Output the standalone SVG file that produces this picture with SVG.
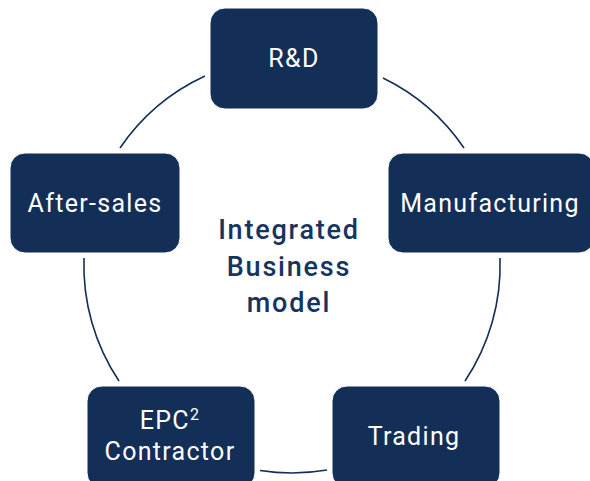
<svg xmlns="http://www.w3.org/2000/svg" width="590" height="481" viewBox="0 0 590 481">
<style>
.box{fill:#142f57;stroke:#ffffff;stroke-width:1}
.lbl{font-family:Roboto,"DejaVu Sans",sans-serif;font-size:25px;fill:#ffffff;text-anchor:middle;letter-spacing:1.3px}
.ctr{font-family:Roboto,"DejaVu Sans",sans-serif;font-size:27px;font-weight:500;fill:#17345f;text-anchor:middle;letter-spacing:1.8px}
.arc{fill:none;stroke:#142f57;stroke-width:1.6}
</style>
<rect width="590" height="481" fill="#ffffff"/>
<g id="connectors">
<path class="arc" d="M383 78 A208 208 0 0 1 464 148"/>
<path class="arc" d="M500 258 A208 208 0 0 1 465 381"/>
<path class="arc" d="M327 470 A208 208 0 0 1 260 470.5"/>
<path class="arc" d="M119 381 A208 208 0 0 1 84 258"/>
<path class="arc" d="M120 148 A208 208 0 0 1 205 76"/>
</g>
<g id="center-label">
<text class="ctr" x="289" y="239">Integrated</text>
<text class="ctr" x="289" y="276">Business</text>
<text class="ctr" x="289" y="312">model</text>
</g>
<g id="node-rd">
<rect class="box" x="210" y="8" width="168" height="101" rx="15"/>
<text class="lbl" x="294" y="67">R&amp;D</text>
</g>
<g id="node-manufacturing">
<rect class="box" x="388" y="153" width="206" height="100" rx="15"/>
<text class="lbl" x="490" y="212">Manufacturing</text>
</g>
<g id="node-trading">
<rect class="box" x="332" y="386" width="168" height="102" rx="15"/>
<text class="lbl" x="414" y="445">Trading</text>
</g>
<g id="node-epc">
<rect class="box" x="87" y="386" width="168" height="102" rx="15"/>
<text class="lbl" x="170" y="429">EPC<tspan font-size="16" dy="-9">2</tspan></text>
<text class="lbl" x="170" y="460">Contractor</text>
</g>
<g id="node-aftersales">
<rect class="box" x="10" y="153" width="170" height="100" rx="15"/>
<text class="lbl" x="95" y="212">After-sales</text>
</g>
</svg>
